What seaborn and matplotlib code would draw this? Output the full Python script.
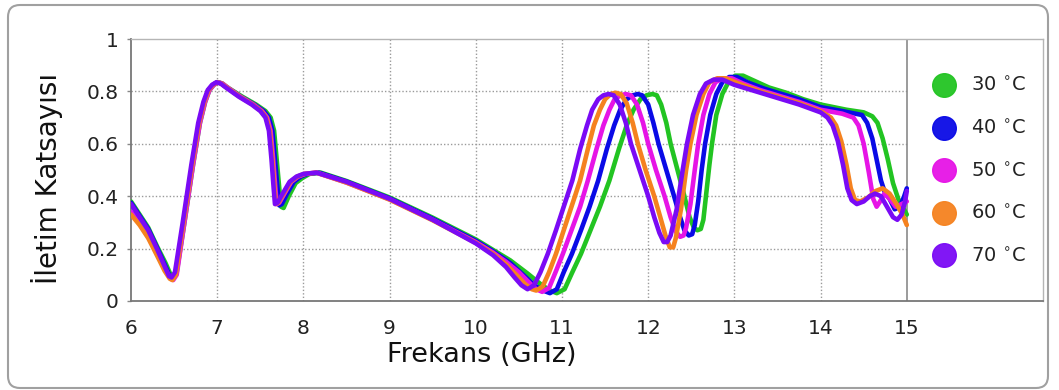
import numpy as np
import pandas as pd
import matplotlib
matplotlib.use("Agg")
import matplotlib.pyplot as plt
import seaborn as sns
from matplotlib.lines import Line2D
from matplotlib.patches import FancyBboxPatch
from matplotlib.transforms import IdentityTransform

# ---------------- data ----------------
temps = ["30 °C", "40 °C", "50 °C", "60 °C", "70 °C"]
legend_labels = ["30 $^{\\circ}$C", "40 $^{\\circ}$C", "50 $^{\\circ}$C", "60 $^{\\circ}$C", "70 $^{\\circ}$C"]
colors = ["#22c422", "#0a0ae6", "#e614e6", "#f5821f", "#7a0af5"]

x_t70 = [6.0, 6.1, 6.2, 6.3, 6.38, 6.44, 6.47, 6.51, 6.6, 6.7, 6.78, 6.84, 6.89, 6.94, 6.99, 7.04, 7.1, 7.25, 7.4, 7.5, 7.56, 7.6, 7.63, 7.655, 7.67, 7.7, 7.76, 7.84, 7.92, 8.0, 8.15, 8.5, 9.0, 9.5, 10.0, 10.2, 10.35, 10.45, 10.53, 10.6,
         10.675, 10.75, 10.835, 10.93, 11.02, 11.12, 11.21, 11.29, 11.35, 11.42, 11.48, 11.54,
         11.60, 11.67, 11.74, 11.80, 11.90, 12.00, 12.07, 12.13, 12.18, 12.22, 12.26,
         12.33, 12.40, 12.45, 12.52, 12.60, 12.67, 12.76, 12.86, 13.0,
         13.25, 13.5, 13.75, 14.0, 14.08, 14.14, 14.2, 14.26, 14.31, 14.36, 14.42, 14.5, 14.57, 14.63, 14.7, 14.77, 14.84, 14.89, 14.94, 14.98, 15.0]
y_t70 = [0.37, 0.32, 0.27, 0.20, 0.14, 0.095, 0.09, 0.11, 0.30, 0.52, 0.68, 0.76, 0.805, 0.825, 0.835, 0.83, 0.815, 0.78, 0.75, 0.725, 0.70, 0.65, 0.54, 0.43, 0.37, 0.375, 0.41, 0.455, 0.475, 0.485, 0.49, 0.455, 0.39, 0.31, 0.22, 0.175, 0.13, 0.09, 0.06, 0.045,
         0.06, 0.11, 0.18, 0.27, 0.36, 0.46, 0.58, 0.67, 0.73, 0.77, 0.785, 0.79,
         0.785, 0.75, 0.68, 0.60, 0.50, 0.40, 0.32, 0.26, 0.225, 0.225, 0.25,
         0.35, 0.50, 0.60, 0.71, 0.79, 0.83, 0.845, 0.845, 0.825,
         0.80, 0.775, 0.75, 0.72, 0.70, 0.67, 0.61, 0.52, 0.43, 0.385, 0.37, 0.38, 0.40, 0.41, 0.40, 0.36, 0.32, 0.31, 0.33, 0.38, 0.42]

x_t60 = [6.0, 6.1, 6.2, 6.3, 6.39, 6.45, 6.48, 6.52, 6.61, 6.71, 6.79, 6.85, 6.9, 6.95, 7.0, 7.05, 7.11, 7.26, 7.41, 7.51, 7.57, 7.61, 7.64, 7.665, 7.68, 7.71, 7.77, 7.85, 7.93, 8.01, 8.15, 8.5, 9.0, 9.5, 10.0, 10.2, 10.35, 10.47, 10.57, 10.65, 10.70,
         10.775, 10.85, 10.93, 11.02, 11.11, 11.21, 11.30, 11.37, 11.44, 11.50, 11.565, 11.62,
         11.68, 11.75, 11.82, 11.88, 11.97, 12.07, 12.14, 12.20, 12.25, 12.29, 12.32,
         12.38, 12.44, 12.49, 12.56, 12.64, 12.71, 12.8, 12.9, 13.05,
         13.3, 13.5, 13.75, 14.0, 14.12, 14.18, 14.24, 14.3, 14.35, 14.4, 14.46, 14.55, 14.64, 14.72, 14.8, 14.88, 14.95, 15.0]
y_t60 = [0.33, 0.29, 0.24, 0.175, 0.115, 0.085, 0.08, 0.10, 0.30, 0.52, 0.68, 0.76, 0.805, 0.825, 0.835, 0.83, 0.815, 0.78, 0.75, 0.725, 0.70, 0.65, 0.54, 0.43, 0.37, 0.375, 0.41, 0.455, 0.475, 0.485, 0.49, 0.452, 0.387, 0.308, 0.222, 0.18, 0.14, 0.10, 0.065, 0.045, 0.04,
         0.055, 0.11, 0.18, 0.27, 0.36, 0.46, 0.58, 0.67, 0.73, 0.77, 0.79, 0.795,
         0.79, 0.755, 0.68, 0.60, 0.50, 0.40, 0.32, 0.25, 0.205, 0.205, 0.24,
         0.35, 0.50, 0.60, 0.71, 0.79, 0.835, 0.85, 0.85, 0.83,
         0.80, 0.78, 0.755, 0.725, 0.70, 0.67, 0.61, 0.52, 0.43, 0.385, 0.38, 0.395, 0.42, 0.43, 0.41, 0.37, 0.33, 0.29]

x_t50 = [6.0, 6.1, 6.2, 6.3, 6.4, 6.46, 6.49, 6.53, 6.62, 6.72, 6.8, 6.86, 6.91, 6.96, 7.01, 7.06, 7.12, 7.27, 7.42, 7.52, 7.58, 7.62, 7.65, 7.675, 7.69, 7.72, 7.78, 7.86, 7.94, 8.02, 8.15, 8.5, 9.0, 9.5, 10.0, 10.2, 10.35, 10.5, 10.62, 10.7, 10.77,
         10.85, 10.925, 11.01, 11.11, 11.21, 11.30, 11.40, 11.48, 11.55, 11.61, 11.68, 11.74,
         11.80, 11.87, 11.94, 12.00, 12.09, 12.19, 12.26, 12.32, 12.37, 12.41, 12.44,
         12.49, 12.54, 12.58, 12.64, 12.71, 12.78, 12.87, 12.97, 13.1,
         13.3, 13.5, 13.75, 14.0, 14.25, 14.38, 14.44, 14.5, 14.56, 14.61, 14.65, 14.69, 14.74, 14.8, 14.87, 14.94, 15.0]
y_t50 = [0.34, 0.295, 0.245, 0.18, 0.12, 0.085, 0.08, 0.10, 0.30, 0.52, 0.68, 0.76, 0.805, 0.825, 0.835, 0.83, 0.815, 0.78, 0.75, 0.725, 0.70, 0.65, 0.54, 0.43, 0.37, 0.375, 0.41, 0.455, 0.475, 0.485, 0.49, 0.452, 0.388, 0.31, 0.225, 0.185, 0.15, 0.11, 0.07, 0.045, 0.035,
         0.05, 0.11, 0.18, 0.27, 0.36, 0.46, 0.58, 0.67, 0.73, 0.77, 0.785, 0.79,
         0.785, 0.75, 0.68, 0.60, 0.50, 0.40, 0.32, 0.265, 0.245, 0.25, 0.28,
         0.37, 0.50, 0.60, 0.71, 0.79, 0.835, 0.85, 0.85, 0.83,
         0.805, 0.785, 0.76, 0.73, 0.715, 0.70, 0.67, 0.60, 0.49, 0.39, 0.36, 0.38, 0.41, 0.39, 0.36, 0.37, 0.38]

x_t40 = [6.0, 6.1, 6.2, 6.3, 6.39, 6.45, 6.48, 6.52, 6.61, 6.71, 6.79, 6.85, 6.9, 6.95, 7.0, 7.05, 7.11, 7.27, 7.43, 7.54, 7.6, 7.64, 7.67, 7.7, 7.72, 7.75, 7.81, 7.89, 7.97, 8.05, 8.18, 8.5, 9.0, 9.5, 10.0, 10.2, 10.4, 10.55, 10.68, 10.78, 10.86,
         10.94, 11.02, 11.115, 11.22, 11.32, 11.42, 11.52, 11.605, 11.675, 11.75, 11.82, 11.88,
         11.93, 12.0, 12.06, 12.12, 12.21, 12.30, 12.37, 12.42, 12.47, 12.51, 12.54,
         12.58, 12.62, 12.66, 12.72, 12.79, 12.86, 12.94, 13.03, 13.15,
         13.35, 13.5, 13.75, 14.0, 14.25, 14.48, 14.54, 14.6, 14.65, 14.7, 14.75, 14.8, 14.86, 14.92, 14.97, 15.0]
y_t40 = [0.375, 0.325, 0.275, 0.205, 0.14, 0.095, 0.09, 0.11, 0.30, 0.52, 0.68, 0.76, 0.805, 0.825, 0.835, 0.83, 0.815, 0.78, 0.75, 0.725, 0.70, 0.65, 0.54, 0.43, 0.365, 0.37, 0.41, 0.455, 0.475, 0.485, 0.49, 0.456, 0.392, 0.314, 0.23, 0.19, 0.145, 0.10, 0.06, 0.04, 0.03,
         0.045, 0.11, 0.18, 0.27, 0.36, 0.46, 0.58, 0.67, 0.73, 0.77, 0.785, 0.79,
         0.785, 0.75, 0.68, 0.60, 0.50, 0.40, 0.32, 0.27, 0.25, 0.255, 0.29,
         0.38, 0.50, 0.60, 0.71, 0.79, 0.835, 0.855, 0.855, 0.835,
         0.81, 0.795, 0.77, 0.74, 0.725, 0.71, 0.68, 0.62, 0.54, 0.46, 0.41, 0.39, 0.35, 0.36, 0.40, 0.43]

x_t30 = [6.0, 6.1, 6.2, 6.3, 6.4, 6.46, 6.49, 6.53, 6.62, 6.72, 6.8, 6.86, 6.91, 6.96, 7.01, 7.06, 7.12, 7.29, 7.45, 7.56, 7.62, 7.66, 7.69, 7.72, 7.74, 7.77, 7.83, 7.91, 7.99, 8.07, 8.2, 8.5, 9.0, 9.5, 10.0, 10.2, 10.4, 10.6, 10.75, 10.86, 10.94,
         11.03, 11.12, 11.22, 11.33, 11.44, 11.55, 11.66, 11.75, 11.83, 11.91, 11.98, 12.05,
         12.10, 12.15, 12.21, 12.26, 12.34, 12.42, 12.48, 12.53, 12.57, 12.61, 12.64,
         12.67, 12.71, 12.74, 12.79, 12.86, 12.93, 13.01, 13.1, 13.2,
         13.4, 13.6, 13.8, 14.0, 14.3, 14.5, 14.6, 14.66, 14.72, 14.78, 14.84, 14.9, 14.95, 15.0]
y_t30 = [0.38, 0.33, 0.28, 0.21, 0.145, 0.10, 0.09, 0.11, 0.30, 0.52, 0.68, 0.76, 0.805, 0.825, 0.835, 0.83, 0.815, 0.78, 0.75, 0.725, 0.70, 0.65, 0.54, 0.43, 0.36, 0.355, 0.40, 0.45, 0.47, 0.485, 0.49, 0.458, 0.395, 0.318, 0.235, 0.195, 0.155, 0.105, 0.065, 0.04, 0.03,
         0.045, 0.11, 0.18, 0.27, 0.36, 0.46, 0.58, 0.67, 0.73, 0.77, 0.785, 0.79,
         0.785, 0.75, 0.68, 0.60, 0.50, 0.40, 0.32, 0.28, 0.27, 0.275, 0.31,
         0.40, 0.52, 0.60, 0.71, 0.79, 0.835, 0.86, 0.86, 0.845,
         0.815, 0.795, 0.77, 0.75, 0.73, 0.72, 0.705, 0.68, 0.62, 0.54, 0.45, 0.39, 0.36, 0.33]

x_ticks = [6, 7, 8, 9, 10, 11, 12, 13, 14, 15]
y_ticks = [0, 0.2, 0.4, 0.6, 0.8, 1]
y_tick_labels = ["0", "0.2", "0.4", "0.6", "0.8", "1"]

# ---------------- build long table ----------------
series_x = [x_t30, x_t40, x_t50, x_t60, x_t70]
series_y = [y_t30, y_t40, y_t50, y_t60, y_t70]
frames = []
for t, xs, ys in zip(temps, series_x, series_y):
    frames.append(pd.DataFrame({"f": xs, "t": ys, "temp": t}))
df = pd.concat(frames, ignore_index=True)

sns.set_theme(style="white")
plt.rcParams["font.family"] = ["DejaVu Sans"]

fig = plt.figure(figsize=(10.59, 3.90), dpi=100)
ax = fig.add_axes([131 / 1059, 1 - 301 / 390, (1043 - 131) / 1059, (301 - 39) / 390])

sns.lineplot(data=df, x="f", y="t", hue="temp", hue_order=temps,
             palette=dict(zip(temps, colors)), sort=False, estimator=None,
             linewidth=3.3, legend=False, ax=ax, zorder=3)
for ln in ax.lines:
    ln.set_solid_joinstyle("round")
    ln.set_solid_capstyle("round")

ax.set_xlim(6, 16.58)
ax.set_ylim(0, 1)
ax.set_xticks(x_ticks)
ax.set_yticks(y_ticks)
ax.set_yticklabels(y_tick_labels)
ax.tick_params(axis="both", length=3, width=1, color="#888888", labelsize=14.5, labelcolor="#222222")
ax.tick_params(axis="x", pad=13, length=0)
ax.tick_params(axis="y", pad=6, direction="out", left=True)

# dotted grid inside data range, solid line at x=15
for xv in x_ticks[1:-1]:
    ax.plot([xv, xv], [0, 1], ls=(0, (1, 1.5)), color="#9a9a9a", lw=1.0, zorder=1)
for yv in y_ticks[1:-1]:
    ax.plot([6, 15], [yv, yv], ls=(0, (1, 1.5)), color="#9a9a9a", lw=1.0, zorder=1)
ax.plot([15, 15], [0, 1], color="#8a8a8a", lw=1.2, zorder=1)

for side in ["top", "right"]:
    ax.spines[side].set_color("#b5b5b5")
    ax.spines[side].set_linewidth(1.0)
for side in ["left", "bottom"]:
    ax.spines[side].set_color("#777777")
    ax.spines[side].set_linewidth(1.3)

ax.set_ylabel("İletim Katsayısı", fontsize=20, color="#111111")
ax.yaxis.set_label_coords(-0.0746, 0.469)
ax.set_xlabel("Frekans (GHz)", fontsize=19.5, color="#111111")
ax.xaxis.set_label_coords((482 - 131) / 912, -0.155)

handles = [Line2D([0], [0], marker="o", ls="none", markersize=17,
                  markerfacecolor=c, markeredgecolor=c, alpha=0.95) for c in colors]
ax.legend(handles, legend_labels, loc="upper left", bbox_to_anchor=(0.866, 0.908),
          frameon=False, fontsize=14, labelspacing=1.2, handletextpad=0.9,
          handlelength=1.0, borderpad=0.2, labelcolor="#222222")

# rounded outer frame
fig.patches.append(FancyBboxPatch((8, 2), 1040, 383, boxstyle="round,pad=0,rounding_size=12",
                                  transform=IdentityTransform(), fill=False,
                                  ec="#a0a0a0", lw=1.5, figure=fig))

fig.savefig("out.png", dpi=100)
